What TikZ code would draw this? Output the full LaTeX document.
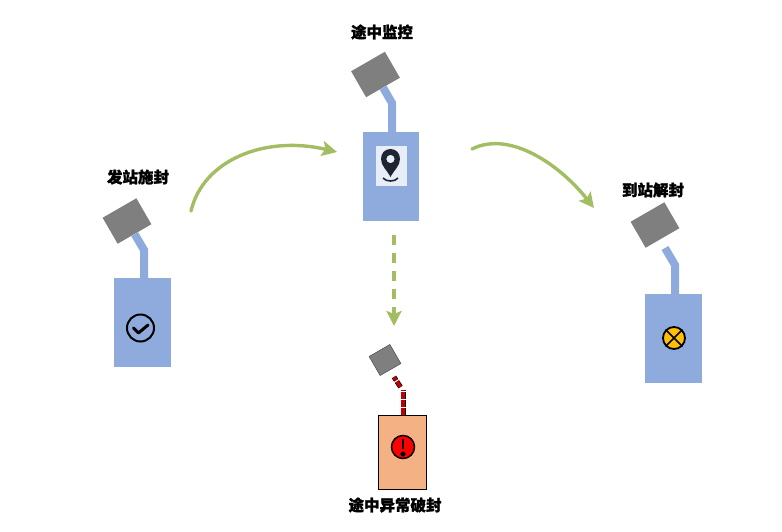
\documentclass[tikz,border=0pt]{standalone}
\usepackage{fontspec}
\newfontfamily\cjk[BoldFeatures={FakeBold=1.5}]{Noto Sans CJK SC}
\usetikzlibrary{arrows.meta}
\definecolor{bodyblue}{HTML}{8FAADC}
\definecolor{headgray}{HTML}{7F7F7F}
\definecolor{flowgreen}{HTML}{A2BD62}
\definecolor{bodyorange}{HTML}{F4B183}
\definecolor{alarmred}{HTML}{C00000}
\definecolor{pinblack}{HTML}{1F2433}
\definecolor{crossyellow}{HTML}{FFC000}
\tikzset{
  sealbody/.style={fill=bodyblue, minimum width=57pt, minimum height=89pt, inner sep=0pt},
  sealhead/.style={fill=headgray, rotate=30, minimum width=39pt, minimum height=30pt, inner sep=0pt},
  sealneck/.style={draw=bodyblue, line width=8pt},
  brokenneck/.style={draw=black, line width=0.7pt, double=alarmred, double distance=3.6pt, dash pattern=on 6.5pt off 1.5pt},
  flowarrow/.style={draw=flowgreen, line width=3.4pt, line cap=round, -{Stealth[length=15pt, width=15pt, inset=3pt]}},
  caption/.style={font=\cjk\bfseries\fontsize{15.5pt}{15.5pt}\selectfont, inner sep=0pt}
}
\begin{document}
\begin{tikzpicture}[x=1pt, y=-1pt]
      \useasboundingbox (0,0) rectangle (782,531);

      \node[sealbody] (bodyA) at (142.5,322.5) {};
      \node[sealhead] (headA) at (127,221) {};
      \coordinate (bendA) at (144,250);
      \draw[sealneck] (bodyA.north -| bendA) -- (bendA) -- (headA);
      \node[caption] (labelA) at (138,177) {发站施封};
      \node[draw=black, line width=2pt, circle, minimum size=27pt, inner sep=0pt] (iconA) at (140.5,328) {};
      \draw[line width=3pt, line cap=round, line join=round] (133.5,328) -- (138.5,333) -- (148,325);

      \node[sealbody, minimum width=56pt] (bodyB) at (391,176.5) {};
      \node[sealhead] (headB) at (375.5,74.5) {};
      \coordinate (bendB) at (392,103);
      \draw[sealneck] (bodyB.north -| bendB) -- (bendB) -- (headB);
      \node[caption] (labelB) at (382,32) {途中监控};
      \node[fill=white, fill opacity=0.8, minimum width=31pt, minimum height=40pt, inner sep=0pt] (iconB) at (391.5,166) {};
      \fill[pinblack, even odd rule] (390.5,177) .. controls (387,170) and (381,166) .. (381,159) .. controls (381,153) and (385,149) .. (390.5,149) .. controls (396,149) and (400,153) .. (400,159) .. controls (400,166) and (394,170) .. (390.5,177) -- cycle (390.5,159) circle [radius=4.2];
      \draw[pinblack, line width=1.6pt] (383,178) .. controls (386,182) and (395,182) .. (398,178);

      \node[sealbody] (bodyC) at (673.5,338.5) {};
      \node[sealhead] (headC) at (655,225) {};
      \coordinate (bendC) at (675,265);
      \coordinate (gapC) at (665,248);
      \draw[sealneck] (bodyC.north -| bendC) -- (bendC) -- (gapC);
      \node[caption] (labelC) at (653,190) {到站解封};
      \node[fill=crossyellow, draw=black, line width=1.8pt, circle, minimum size=22pt, inner sep=0pt] (iconC) at (674,338) {};
      \draw[line width=1.6pt] (iconC.45) -- (iconC.225) (iconC.135) -- (iconC.315);

      \node[fill=bodyorange, draw=black, line width=0.6pt, minimum width=48pt, minimum height=74pt, inner sep=0pt] (bodyD) at (402,452) {};
      \node[fill=headgray, draw=black!70, line width=0.5pt, rotate=30, minimum width=24pt, minimum height=22pt, inner sep=0pt] (headD) at (385,360) {};
      \coordinate (bendD) at (403,390);
      \coordinate (kinkD) at (400.5,387);
      \coordinate (gapD) at (394,377);
      \draw[brokenneck] (bodyD.north -| bendD) -- (bendD);
      \draw[brokenneck] (kinkD) -- (gapD);
      \node[caption] (labelD) at (395,505) {途中异常破封};
      \node[fill=red, draw=black, line width=1.5pt, circle, minimum size=23pt, inner sep=0pt] (iconD) at (403,447) {};
      \draw[line width=2pt] (403,439) -- (403,449);
      \fill (403,454) circle [radius=2.6];

      \coordinate (startAB) at (191,211);
      \coordinate (endAB) at (337,152);
      \coordinate (startBC) at (472,149);
      \coordinate (endBC) at (594,208);
      \coordinate (startBD) at (394,235);
      \coordinate (endBD) at (394,326);
      \draw[flowarrow] (startAB) .. controls (203,160) and (265,135) .. (endAB);
      \draw[flowarrow] (startBC) .. controls (510,130) and (560,165) .. (endBC);
      \draw[flowarrow, line cap=butt, dash pattern=on 10pt off 8pt] (startBD) -- (endBD);
\end{tikzpicture}
\end{document}
